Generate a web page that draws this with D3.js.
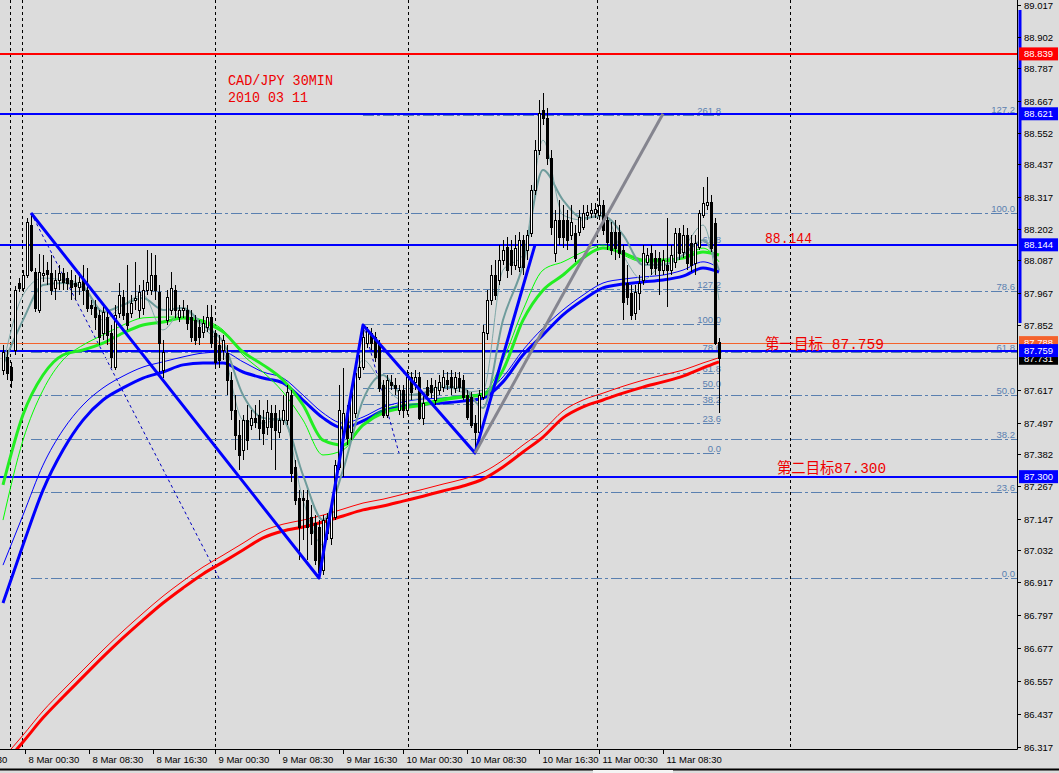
<!DOCTYPE html>
<html><head><meta charset="utf-8">
<script src="https://cdn.jsdelivr.net/npm/d3@7"></script>
<style>body{margin:0;background:#dcdcdc;} svg{display:block}</style>
</head><body><svg id="c" width="1059" height="773"></svg>
<script>
// ---------- DATA ----------
const opens = [87.688,87.736,87.700,87.761,88.005,87.987,88.034,88.216,88.045,87.907,
88.034,88.052,88.041,87.987,88.016,88.041,88.023,88.016,88.005,87.990,
88.016,87.979,87.925,87.918,87.889,87.823,87.881,87.823,87.700,87.896,
87.954,87.896,87.896,87.943,87.907,87.914,87.979,87.979,88.034,87.972,
87.688,87.870,87.907,87.979,87.881,87.907,87.907,87.881,87.870,87.845,
87.827,87.845,87.881,87.823,87.779,87.761,87.750,87.652,87.543,87.452,
87.397,87.506,87.488,87.514,87.525,87.506,87.481,87.532,87.532,87.463,
87.506,87.506,87.597,87.335,87.222,87.222,87.215,87.153,87.131,87.117,
86.960,87.095,87.077,87.153,87.335,87.444,87.532,87.463,87.532,87.663,
87.700,87.786,87.823,87.808,87.786,87.634,87.525,87.645,87.634,87.543,
87.615,87.543,87.663,87.645,87.663,87.514,87.626,87.634,87.579,87.615,
87.626,87.652,87.663,87.623,87.659,87.652,87.597,87.590,87.495,87.463,
87.590,87.823,87.943,88.034,88.016,88.089,88.136,88.125,88.071,88.063,
88.161,88.125,88.187,88.343,88.489,88.635,88.606,88.460,88.114,88.234,
88.234,88.234,88.179,88.187,88.190,88.209,88.252,88.260,88.260,88.252,
88.289,88.234,88.190,88.190,88.190,88.125,88.005,87.968,87.896,87.968,
88.016,88.082,88.114,88.096,88.096,88.052,88.071,88.052,88.082,88.187,
88.118,88.180,88.150,88.078,88.136,88.252,88.289,88.300,88.223,87.790];
const highs = [87.779,87.761,87.718,87.994,88.023,88.052,88.242,88.260,88.060,88.110,
88.107,88.082,88.107,88.052,88.071,88.060,88.045,88.052,88.034,88.045,
88.071,88.060,87.943,87.943,87.907,87.925,87.907,87.852,87.925,88.005,
87.979,88.071,87.961,88.082,87.998,88.016,88.125,88.114,88.107,87.998,
87.797,87.979,88.045,87.998,87.925,87.943,87.925,87.907,87.889,87.870,
87.885,87.925,87.925,87.834,87.816,87.816,87.779,87.681,87.597,87.506,
87.525,87.561,87.543,87.561,87.579,87.543,87.579,87.561,87.561,87.543,
87.597,87.634,87.615,87.361,87.251,87.251,87.251,87.197,87.160,87.142,
87.160,87.168,87.215,87.361,87.634,87.696,87.561,87.634,87.707,87.743,
87.852,87.845,87.841,87.827,87.797,87.652,87.670,87.670,87.659,87.634,
87.634,87.688,87.681,87.688,87.681,87.597,87.652,87.659,87.652,87.670,
87.688,87.681,87.688,87.681,87.681,87.670,87.615,87.608,87.525,87.615,
87.852,87.979,88.071,88.089,88.143,88.161,88.172,88.161,88.179,88.190,
88.179,88.198,88.362,88.525,88.671,88.697,88.642,88.489,88.271,88.307,
88.289,88.271,88.289,88.216,88.271,88.289,88.289,88.296,88.296,88.351,
88.307,88.252,88.227,88.234,88.216,88.143,88.071,87.998,87.998,88.034,
88.143,88.132,88.143,88.125,88.118,88.125,88.241,88.143,88.205,88.205,
88.216,88.205,88.179,88.179,88.271,88.354,88.391,88.325,88.241,87.805];
const lows = [87.670,87.652,87.623,87.743,87.972,87.972,88.023,88.045,87.900,87.896,
88.009,87.998,87.961,87.943,87.979,87.979,87.979,87.943,87.943,87.961,
87.925,87.900,87.889,87.834,87.779,87.797,87.779,87.696,87.688,87.878,
87.870,87.834,87.878,87.907,87.878,87.889,87.961,87.961,87.943,87.681,
87.659,87.852,87.889,87.878,87.863,87.878,87.834,87.790,87.779,87.779,
87.805,87.827,87.768,87.696,87.696,87.725,87.597,87.506,87.397,87.324,
87.361,87.397,87.470,87.477,87.433,87.415,87.452,87.397,87.324,87.441,
87.488,87.488,87.281,87.197,86.997,87.069,86.997,87.051,86.978,86.931,
86.942,87.069,87.051,87.142,87.324,87.299,87.415,87.433,87.514,87.652,
87.688,87.768,87.761,87.718,87.608,87.514,87.514,87.615,87.597,87.525,
87.514,87.525,87.579,87.615,87.506,87.488,87.579,87.586,87.561,87.597,
87.608,87.615,87.597,87.604,87.608,87.579,87.506,87.477,87.386,87.433,
87.579,87.797,87.925,87.943,87.998,88.071,88.023,88.034,88.052,88.045,
88.034,88.089,88.172,88.325,88.471,88.580,88.435,88.180,88.082,88.143,
88.132,88.125,88.161,88.082,88.176,88.198,88.234,88.241,88.241,88.234,
88.180,88.125,88.107,88.089,88.096,87.870,87.925,87.870,87.870,87.907,
87.998,88.071,88.034,88.034,87.961,88.034,87.918,88.034,88.060,88.089,
88.096,88.052,88.045,88.034,88.125,88.241,88.271,88.118,87.779,87.532];
const closes = [87.754,87.677,87.652,87.979,87.987,88.034,88.227,88.052,87.914,88.045,
88.041,88.038,87.979,88.016,88.041,88.009,88.005,87.990,87.994,88.009,
87.979,87.914,87.914,87.881,87.808,87.900,87.816,87.736,87.889,87.961,
87.889,87.852,87.932,87.950,87.972,87.979,88.009,88.034,87.979,87.786,
87.754,87.954,87.987,87.907,87.907,87.914,87.859,87.808,87.797,87.808,
87.859,87.881,87.786,87.718,87.725,87.797,87.652,87.543,87.452,87.379,
87.506,87.433,87.514,87.499,87.477,87.459,87.536,87.481,87.470,87.506,
87.543,87.608,87.313,87.215,87.117,87.215,87.117,87.095,86.997,86.953,
87.142,87.149,87.189,87.342,87.543,87.532,87.441,87.608,87.677,87.700,
87.808,87.834,87.786,87.736,87.623,87.525,87.652,87.634,87.623,87.615,
87.543,87.663,87.608,87.663,87.514,87.568,87.597,87.608,87.626,87.645,
87.663,87.637,87.626,87.663,87.626,87.590,87.517,87.488,87.463,87.597,
87.827,87.943,88.034,87.961,88.089,88.125,88.052,88.071,88.132,88.161,
88.063,88.179,88.343,88.489,88.624,88.606,88.460,88.209,88.234,88.172,
88.172,88.161,88.227,88.096,88.245,88.260,88.263,88.271,88.274,88.289,
88.198,88.154,88.125,88.132,88.114,87.936,87.954,87.889,87.972,88.005,
88.114,88.107,88.060,88.060,88.052,88.089,88.052,88.107,88.187,88.114,
88.180,88.078,88.071,88.150,88.260,88.296,88.300,88.132,87.786,87.731];

// moving averages read at these bar indices
const maIdx = [0,5,10,15,20,25,30,35,40,45,50,55,60,65,70,75,80,85,90,95,100,105,110,115,120,125,130,135,140,145,150,155,160,165,170,175,179];
const emaFast = [87.707,87.961,88.023,88.016,87.998,87.870,87.925,87.961,87.834,87.907,87.841,87.761,87.506,87.495,87.514,87.215,87.051,87.433,87.725,87.634,87.579,87.586,87.634,87.608,87.615,88.052,88.107,88.525,88.252,88.234,88.263,88.107,88.016,88.082,88.132,88.216,87.943];
const emaSlow = [87.707,87.870,87.998,88.005,87.990,87.900,87.925,87.950,87.907,87.914,87.852,87.790,87.597,87.514,87.506,87.306,87.142,87.324,87.579,87.670,87.597,87.604,87.626,87.623,87.550,87.870,88.071,88.416,88.307,88.241,88.249,88.180,88.071,88.071,88.107,88.161,88.052];
const greenThick = [87.270,87.525,87.670,87.743,87.761,87.786,87.823,87.852,87.863,87.878,87.863,87.827,87.754,87.707,87.652,87.561,87.433,87.415,87.488,87.532,87.550,87.561,87.579,87.590,87.597,87.688,87.870,87.979,88.034,88.096,88.132,88.114,88.089,88.089,88.096,88.118,88.107];
const greenThin = [87.142,87.433,87.615,87.725,87.779,87.816,87.852,87.878,87.881,87.881,87.870,87.834,87.743,87.681,87.608,87.506,87.379,87.397,87.488,87.543,87.561,87.568,87.586,87.594,87.604,87.725,87.907,88.052,88.082,88.118,88.143,88.107,88.082,88.082,88.096,88.132,88.082];
const blueThick = [86.840,87.051,87.251,87.397,87.506,87.579,87.623,87.659,87.681,87.707,87.714,87.714,87.681,87.659,87.641,87.579,87.514,87.477,87.503,87.539,87.557,87.564,87.568,87.575,87.586,87.645,87.743,87.816,87.889,87.943,87.987,88.001,88.009,88.016,88.030,88.060,88.045];
const blueThin = [86.978,87.160,87.342,87.470,87.561,87.623,87.666,87.699,87.718,87.736,87.750,87.754,87.718,87.681,87.659,87.597,87.532,87.495,87.517,87.553,87.572,87.583,87.586,87.594,87.604,87.663,87.761,87.841,87.907,87.961,88.005,88.019,88.027,88.034,88.052,88.082,88.060];
const redThick = [86.250,86.334,86.422,86.498,86.571,86.644,86.713,86.778,86.840,86.895,86.946,86.989,87.033,87.077,87.102,87.117,87.135,87.157,87.179,87.193,87.211,87.229,87.248,87.266,87.291,87.335,87.390,87.444,87.514,87.554,87.579,87.604,87.626,87.645,87.666,87.696,87.718];
const redThin = [86.275,86.359,86.447,86.523,86.596,86.669,86.738,86.803,86.865,86.920,86.971,87.014,87.058,87.102,87.127,87.142,87.160,87.182,87.204,87.218,87.236,87.254,87.273,87.291,87.316,87.360,87.415,87.469,87.539,87.579,87.604,87.629,87.651,87.670,87.688,87.714,87.733];

// wave lines (bar index, price)
const waveIdx = [7,79,90,118,133];
const wavePx = [88.260,86.931,87.852,87.386,88.144];
const projIdx = [118,165];
const projPx = [87.386,88.621];

// fibonacci tools
const fibLevels1 = [0,23.6,38.2,50,61.8,78.6,100,127.2];
const fib1 = {i0:7, p0:88.260, i1:54, p1:86.931};
const fibLevels2 = [0,23.6,38.2,50,61.8,78.6,100,127.2,161.8,261.8];
const fib2 = {i0:90, p0:87.856, i1:99, p1:87.386};

// horizontal levels
const hLevels = [88.839, 88.621, 88.144, 87.788, 87.731, 87.759, 87.300];
const hKinds  = ["red","blue","blue","orange","bid","blue","blue"];

// axis
const priceTicks = [89.017,88.902,88.787,88.667,88.552,88.437,88.317,88.202,88.087,87.967,87.852,87.617,87.497,87.382,87.267,87.147,87.032,86.917,86.797,86.677,86.557,86.437,86.317];
const timeTickIdx = [-12.5,5.5,21.5,37.5,53,69,85,100,116,134,149,165];
const timeTickLab = ["5 Mar 16:30","8 Mar 00:30","8 Mar 08:30","8 Mar 16:30","9 Mar 00:30","9 Mar 08:30","9 Mar 16:30","10 Mar 00:30","10 Mar 08:30","10 Mar 16:30","11 Mar 00:30","11 Mar 08:30"];
const separatorIdx = [1.75,4.75,53,101.25,148.5,196.75];
const rangeBar = [88.999, 87.859];

// ---------- DRAW ----------
const svg = d3.select("#c");
const plotR = 1017, plotB = 749;
const x = d3.scaleLinear().domain([0,179]).range([3,719]);
const y = d3.scaleLinear().domain([86.317,89.017]).range([746.7,5]);

svg.append("rect").attr("width",1059).attr("height",773).attr("fill","#dcdcdc");
svg.append("clipPath").attr("id","pc").append("rect").attr("x",0).attr("y",0).attr("width",plotR).attr("height",plotB);
const g = svg.append("g").attr("clip-path","url(#pc)");

// separators
g.selectAll("line.sep").data(separatorIdx).enter().append("line")
  .attr("x1",d=>Math.round(x(d))+0.5).attr("x2",d=>Math.round(x(d))+0.5).attr("y1",0).attr("y2",plotB)
  .attr("stroke","#000").attr("stroke-dasharray","3,3").attr("stroke-width",1);

// fib tools
const fibColor = "#5a80b0";
function drawFib(f, levels, xEnd, labelX){
  levels.forEach(l=>{
    const p = f.p1 + (f.p0 - f.p1)*l/100;
    const yy = Math.round(y(p))+0.5;
    g.append("line").attr("x1",x(f.i0)).attr("x2",xEnd).attr("y1",yy).attr("y2",yy)
      .attr("stroke",fibColor).attr("stroke-width",1).attr("stroke-dasharray","11,3,3,3");
    g.append("text").attr("x",labelX).attr("y",yy-2).attr("text-anchor","end")
      .attr("font-family","Liberation Sans, Arial").attr("font-size",9.5).attr("fill",fibColor)
      .text(l.toFixed(1));
  });
  g.append("line").attr("x1",x(f.i0)).attr("y1",y(f.p0)).attr("x2",x(f.i1)).attr("y2",y(f.p1))
    .attr("stroke","#0000c0").attr("stroke-width",1).attr("stroke-dasharray","3,3");
}
drawFib(fib1, fibLevels1, plotR, 1015);
drawFib(fib2, fibLevels2, x(179)+2, x(179)+2);

// horizontal lines
const hStyle = {red:{c:"#ff0000",w:2,bg:"#ff0000"}, blue:{c:"#0000ff",w:2,bg:"#0000ff"},
  orange:{c:"#f4622c",w:1,bg:"#f4622c"}, bid:{c:"#b8b8b8",w:1,bg:"#000000"}};
hLevels.forEach((v,k)=>{
  const s = hStyle[hKinds[k]];
  const yy = Math.round(y(v)) + (s.w===1?0.5:0);
  g.append("line").attr("x1",0).attr("x2",plotR).attr("y1",yy).attr("y2",yy)
    .attr("stroke",s.c).attr("stroke-width",s.w);
});

// moving averages
const maLine = d3.line().x((d,k)=>x(maIdx[k])).y(d=>y(d)).curve(d3.curveMonotoneX);
function ma(arr,color,w){ g.append("path").attr("d",maLine(arr)).attr("fill","none").attr("stroke",color).attr("stroke-width",w).attr("stroke-linejoin","round"); }
ma(redThin,"#ff0000",1);
ma(redThick,"#ff0000",3);
ma(blueThin,"#0000ff",1);
ma(blueThick,"#0000ff",3);
ma(greenThin,"#00ff00",1);
ma(greenThick,"#22ee22",3);
ma(emaSlow,"#6f9c9c",2);
ma(emaFast,"#7fa8a8",1);

// candles
const cg = g.append("g").attr("shape-rendering","crispEdges");
d3.range(opens.length).forEach(i=>{
  const cx = Math.round(x(i));
  cg.append("line").attr("x1",cx+0.5).attr("x2",cx+0.5).attr("y1",y(highs[i])).attr("y2",y(lows[i]))
    .attr("stroke","#000").attr("stroke-width",1);
  const top = Math.round(y(Math.max(opens[i],closes[i])));
  const bot = Math.round(y(Math.min(opens[i],closes[i])));
  const bull = closes[i] >= opens[i];
  cg.append("rect").attr("x",cx-0.5).attr("y",top+0.5).attr("width",2).attr("height",Math.max(1,bot-top))
    .attr("fill",bull?"#ffffff":"#000000").attr("stroke","#000").attr("stroke-width",1);
});

// wave & projection lines
const wl = d3.line().x((d,k)=>x(waveIdx[k])).y(d=>y(d));
g.append("path").attr("d",wl(wavePx)).attr("fill","none").attr("stroke","#0000ff").attr("stroke-width",3).attr("stroke-linejoin","round");
const pl = d3.line().x((d,k)=>x(projIdx[k])).y(d=>y(d));
g.append("path").attr("d",pl(projPx)).attr("fill","none").attr("stroke","#85858f").attr("stroke-width",3);

// annotations
function note(txt, xx, yy, len, fam){
  g.append("text").attr("x",xx).attr("y",yy).attr("fill","#ee0000")
   .attr("font-family",fam).attr("font-size",15)
   .attr("textLength",len).attr("lengthAdjust","spacingAndGlyphs").text(txt);
}
note("CAD/JPY 30MIN",228,85,105,"Liberation Mono, monospace");
note("2010 03 11",228,102,80,"Liberation Mono, monospace");
note("88.144",765,243,47,"Liberation Mono, monospace");
note("第一目标 87.759",765,349,119,"Liberation Mono, Noto Sans CJK SC");
note("第二目标87.300",777,473,109,"Liberation Mono, Noto Sans CJK SC");

// axes
const ax = svg.append("g").attr("font-family","Liberation Sans, Arial").attr("font-size",9.5);
ax.append("line").attr("x1",plotR+0.5).attr("x2",plotR+0.5).attr("y1",0).attr("y2",plotB+0.5).attr("stroke","#000");
ax.append("line").attr("x1",0).attr("x2",plotR+0.5).attr("y1",plotB+0.5).attr("y2",plotB+0.5).attr("stroke","#000");
ax.append("line").attr("x1",1020).attr("x2",1020).attr("y1",y(rangeBar[0])).attr("y2",y(rangeBar[1])).attr("stroke","#0000ff").attr("stroke-width",3);
priceTicks.forEach(v=>{
  const yy = Math.round(y(v))+0.5;
  ax.append("line").attr("x1",plotR).attr("x2",plotR+4).attr("y1",yy).attr("y2",yy).attr("stroke","#000");
  ax.append("text").attr("x",1024).attr("y",yy+3.5).attr("fill","#000").text(v.toFixed(3));
});
hLevels.forEach((v,k)=>{
  const s = hStyle[hKinds[k]];
  const yy = y(v);
  ax.append("rect").attr("x",1019).attr("y",yy-6.5).attr("width",39).attr("height",13).attr("fill",s.bg);
  ax.append("text").attr("x",1024).attr("y",yy+3.5).attr("fill","#fff").text(v.toFixed(3));
});
timeTickIdx.forEach((t,k)=>{
  const xx = Math.round(x(t))+0.5;
  if (xx>0) ax.append("line").attr("x1",xx).attr("x2",xx).attr("y1",plotB).attr("y2",plotB+5).attr("stroke","#000");
  ax.append("text").attr("x",xx+3).attr("y",plotB+14).attr("fill","#000").text(timeTickLab[k]);
});
// bottom frame
svg.append("line").attr("x1",0).attr("x2",1059).attr("y1",769.5).attr("y2",769.5).attr("stroke","#000").attr("stroke-width",2);
svg.append("rect").attr("x",593).attr("y",770).attr("width",80).attr("height",3).attr("fill","#f4f4f4");
</script></body></html>
